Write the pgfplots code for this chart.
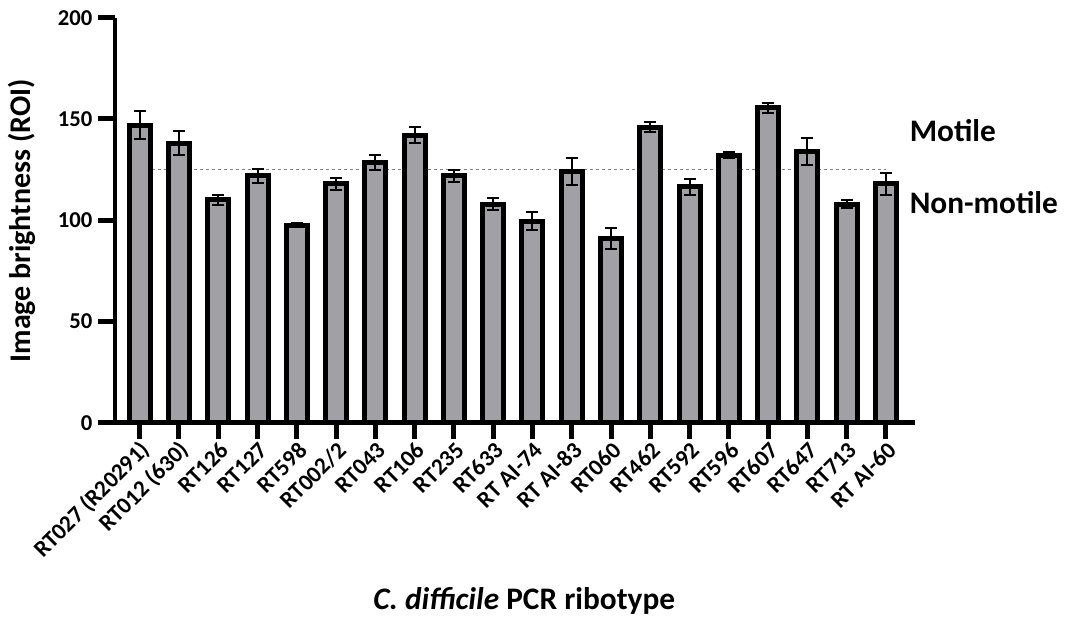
\documentclass[border=0pt]{standalone}
\usepackage{fontspec}
\setmainfont{Carlito}
\usepackage{pgfplots}
\pgfplotsset{compat=1.18}
\definecolor{barfill}{RGB}{160,160,165}
\pgfplotstableread{
x y e
0 147 7
1 138 6
2 110 2.5
3 122 3.5
4 97.5 1
5 118 3
6 128.5 3.5
7 142 4
8 122 3
9 108 3
10 99.5 4.5
11 124 6.5
12 91 5
13 146 2.5
14 116.5 4
15 132 1.5
16 155.5 2.5
17 134 6.5
18 108 2
19 118 5.5
}\datatable
\begin{document}
\begin{tikzpicture}
\begin{axis}[
  name=ax,
  scale only axis,
  width=600pt, height=303.75pt,
  xmin=-0.629, xmax=19.74, ymin=0, ymax=200,
  axis x line*=bottom, axis y line*=left,
  axis line style={line width=3.4pt, -},
  tick style={line width=3.75pt, black},
  major tick length=12.5pt,
  tick align=outside,
  ytick={0,50,100,150,200},
  xtick={0,...,19},
  xticklabels={RT027 (R20291),RT012 (630),RT126,RT127,RT598,RT002/2,RT043,RT106,RT235,RT633,RT AI-74,RT AI-83,RT060,RT462,RT592,RT596,RT607,RT647,RT713,RT AI-60},
  /pgf/number format/assume math mode=true,
  yticklabel style={font=\bfseries\fontsize{17}{20}\selectfont, xshift=-1pt},
  xticklabel style={font=\bfseries\fontsize{17.5}{20}\selectfont, rotate=45, anchor=east, xshift=3pt, yshift=-7pt},
  clip=false,
]
\addplot[gray, line width=0.75pt, dash pattern=on 2.25pt off 2.25pt] coordinates {(0,125) (19,125)};
\addplot[ybar, bar width=15.75pt, fill=barfill, draw=black, line width=3.75pt,
  error bars/.cd, y dir=both, y explicit,
  error bar style={line width=1.5pt, black},
  error mark options={rotate=90, mark size=4.5pt, line width=1.5pt, black}]
  table[x=x, y=y, y error=e] {\datatable};
\node[anchor=base west, inner sep=0pt, font=\bfseries\fontsize{23.5}{26}\selectfont] at (axis cs:19.6,138.8) {Motile};
\node[anchor=base west, inner sep=0pt, font=\bfseries\fontsize{23.5}{26}\selectfont] at (axis cs:19.6,103.4) {Non-motile};
\node[anchor=base, inner sep=0pt, font=\bfseries\fontsize{23.5}{26}\selectfont] at (axis cs:9.79,-92) {\textit{C. difficile} PCR ribotype};
\node[anchor=base, inner sep=0pt, rotate=90, font=\bfseries\fontsize{22.5}{26}\selectfont] at (axis cs:-2.79,99.7) {Image brightness (ROI)};
\end{axis}
\pgfresetboundingbox
\path ([shift={(-86.25pt,-151.7pt)}]ax.south west) rectangle ([shift={(714.75pt,317.05pt)}]ax.south west);
\end{tikzpicture}
\end{document}
